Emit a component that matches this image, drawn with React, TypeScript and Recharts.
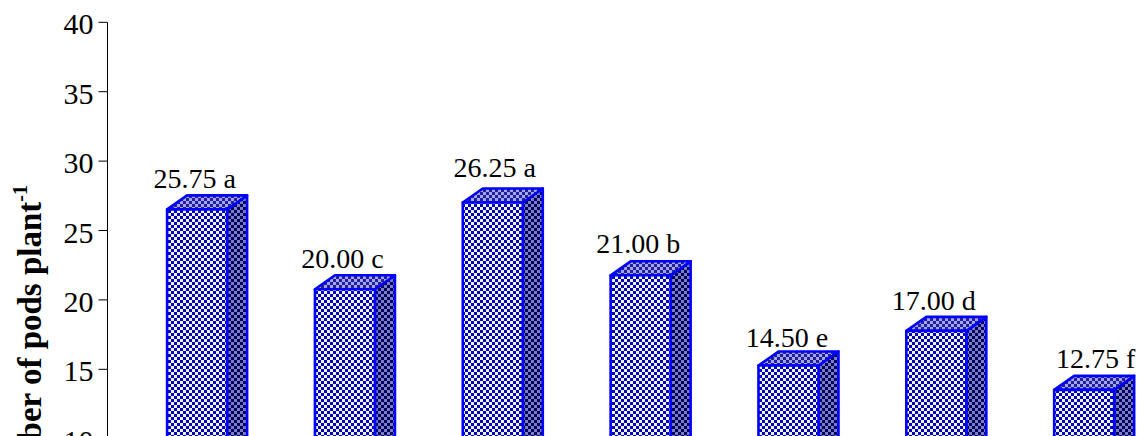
import { BarChart, Bar, XAxis, YAxis, LabelList } from "recharts";

const categories = ["T1", "T2", "T3", "T4", "T5", "T6", "T7"];
const podsPerPlant = [25.75, 20.0, 26.25, 21.0, 14.5, 17.0, 12.75];
const significance = ["a", "c", "a", "b", "e", "d", "f"];
const yTicks = [0, 5, 10, 15, 20, 25, 30, 35, 40];

const data = categories.map((name, i) => ({ name, pods: podsPerPlant[i] }));

const SERIF = '"Liberation Serif", "Times New Roman", serif';

// 3D block geometry
const LIFT = 10.7;
const DEPTH_X = 20;
const DEPTH_Y = 14;

// small per-bar label adjustments [dx, baseline above the value]
const labelNudge: [number, number][] = [
  [-2.5, 32],
  [-2.5, 32],
  [2, 36.2],
  [-2.5, 33],
  [-1.5, 29],
  [-2.5, 32],
  [11.5, 32.5],
];

const Checker = ({ id, light, dark }: { id: string; light: string; dark: string }) => (
  <pattern id={id} width={6} height={6} patternUnits="userSpaceOnUse">
    <rect width={6} height={6} fill={light} />
    <rect width={3} height={3} fill={dark} />
    <rect x={3} y={3} width={3} height={3} fill={dark} />
  </pattern>
);

const Block = ({ x, y, width, height }: any) => {
  const top = y - LIFT;
  const bottom = y + height;
  const right = x + width;
  return (
    <g stroke="#0000ff" strokeWidth={2.6} strokeLinejoin="round">
      <path
        d={`M${right} ${top}L${right + DEPTH_X} ${top - DEPTH_Y}V${bottom - DEPTH_Y}L${right} ${bottom}Z`}
        fill="url(#sideFill)"
      />
      <path
        d={`M${x} ${top}L${x + DEPTH_X} ${top - DEPTH_Y}H${right + DEPTH_X}L${right} ${top}Z`}
        fill="url(#topFill)"
      />
      <rect x={x} y={top} width={width} height={bottom - top} fill="url(#frontFill)" />
    </g>
  );
};

const ValueLabel = ({ x, y, width, value, index }: any) => (
  <text
    x={x + width / 2 + labelNudge[index][0]}
    y={y - labelNudge[index][1]}
    textAnchor="middle"
    fontFamily={SERIF}
    fontSize={28}
    fill="#000"
  >
    {`${Number(value).toFixed(2)} ${significance[index]}`}
  </text>
);

const AxisTitle = () => (
  <text
    transform="translate(41 185) rotate(-90)"
    textAnchor="end"
    fontFamily={SERIF}
    fontSize={33}
    fontWeight="bold"
    fill="#000"
  >
    Number of pods plant
    <tspan fontSize={20} dy={-14}>
      -1
    </tspan>
  </text>
);

// y tick numerals sit slightly below their tick marks
const ValueTick = ({ x, y, payload }: any) => (
  <text x={x} y={y + 12} textAnchor="end" fontFamily={SERIF} fontSize={30} fill="#000">
    {payload.value}
  </text>
);

export default function App() {
  return (
    <div style={{ position: "fixed", left: 0, top: 0, width: 1140, height: 436, overflow: "hidden", background: "#fff" }}>
      <BarChart
        width={1158}
        height={577.5}
        data={data}
        margin={{ top: 22.3, right: 0, bottom: 0, left: 0 }}
        barCategoryGap={0}
      >
        <defs>
          <Checker id="frontFill" light="#f4f4ff" dark="#0000b8" />
          <Checker id="topFill" light="#a4a4ec" dark="#20209a" />
          <Checker id="sideFill" light="#7c7cc0" dark="#000060" />
        </defs>
        <XAxis dataKey="name" hide padding={{ left: 15.6, right: 0 }} />
        <YAxis
          width={107.5}
          domain={[0, 40]}
          ticks={yTicks}
          interval={0}
          tickSize={9}
          tickMargin={5}
          stroke="#000"
          tick={ValueTick}
          label={AxisTitle}
        />
        <Bar dataKey="pods" barSize={60} shape={Block} isAnimationActive={false}>
          <LabelList dataKey="pods" content={ValueLabel} />
        </Bar>
      </BarChart>
    </div>
  );
}
